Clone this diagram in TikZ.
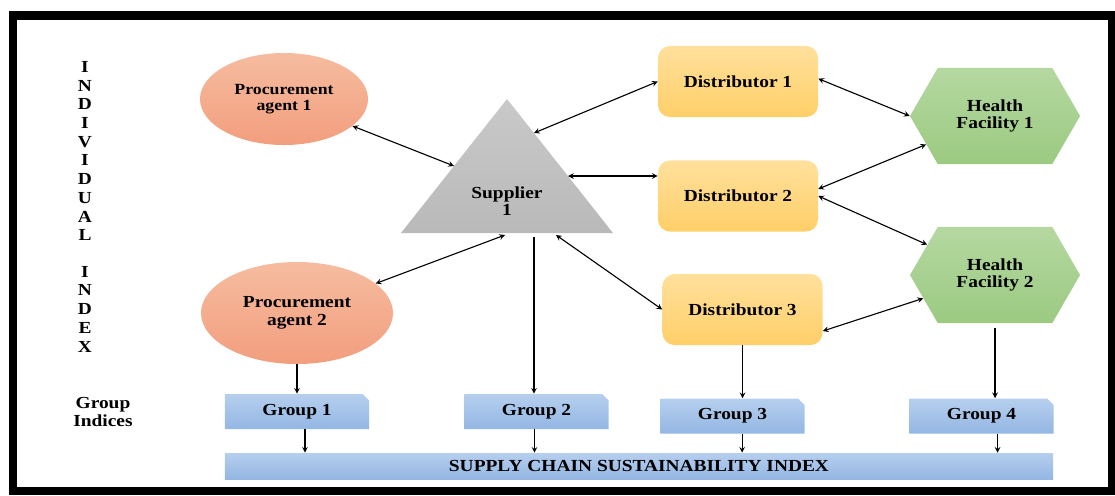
\documentclass[tikz,border=0pt]{standalone}
\usepackage{fontspec}
\setmainfont{Liberation Serif}[FakeStretch=1.15]
\usetikzlibrary{shapes.geometric,shapes.symbols,shapes.misc}

\definecolor{agtop}{HTML}{F6BC9F}
\definecolor{agbot}{HTML}{F29E7E}
\definecolor{distop}{HTML}{FFE09C}
\definecolor{disbot}{HTML}{FFCF68}
\definecolor{hftop}{HTML}{B5D8A1}
\definecolor{hfbot}{HTML}{9BCA81}
\definecolor{grtop}{HTML}{B6CFEE}
\definecolor{grbot}{HTML}{93B6E3}
\definecolor{suptop}{HTML}{C9C9C9}
\definecolor{supbot}{HTML}{B9B9B9}

\begin{document}
\begin{tikzpicture}[x=0.025cm,y=-0.025cm,>=stealth,
   every node/.style={font=\fontsize{12}{13.5}\selectfont\bfseries,align=center},
   agent/.style={ellipse,top color=agtop,bottom color=agbot,inner sep=0pt},
   distbox/.style={rectangle,rounded corners=0.3cm,top color=distop,bottom color=disbot,
                   minimum width=4cm,minimum height=1.775cm},
   facility/.style={signal,signal to=west and east,signal pointer angle=120,
                    top color=hftop,bottom color=hfbot,minimum width=4.25cm,minimum height=2.4cm},
   groupbox/.style={chamfered rectangle,chamfered rectangle corners=north east,
                    chamfered rectangle xsep=0.08cm,chamfered rectangle ysep=0.08cm,
                    top color=grtop,bottom color=grbot,minimum width=3.6cm,minimum height=0.875cm},
   link/.style={<->,thick}]
   \useasboundingbox (0,0) rectangle (1115,495);
   \draw[line width=5.7pt] (13,15.5) rectangle (1112,491);

   % side labels
   \foreach \l/\y in {I/67,N/86,D/104,I/123,V/142,I/160,D/179,U/198,A/217,L/235,
                      I/272,N/290,D/309,E/328,X/347}
      \node (lt\y) at (85,\y) {\l};
   \node (grplbl) at (103,412) {Group\\[-1pt]Indices};

   % supplier
   \coordinate (apex) at (507,99);
   \coordinate (bl) at (401,233);
   \coordinate (br) at (613,233);
   \shade[top color=suptop,bottom color=supbot] (apex) -- (br) -- (bl) -- cycle;
   \node (sup) at (507,201) {Supplier\\[-1pt]1};
   \coordinate (tl) at (454,166);
   \coordinate (tr1) at (534,133);
   \coordinate (tr2) at (568,176);
   \coordinate (tb1) at (505,235);
   \coordinate (tb2) at (534,237);
   \coordinate (tb3) at (556,235);

   % nodes
   \node[agent,minimum width=4.2cm,minimum height=2.3cm,font=\fontsize{11}{12.5}\selectfont\bfseries]
        (pa1) at (284,99) {Procurement\\[-1pt]agent 1};
   \node[agent,minimum width=4.8cm,minimum height=2.55cm] (pa2) at (297,313) {Procurement\\[-1pt]agent 2};
   \node[distbox] (d1) at (738,81.5) {Distributor 1};
   \node[distbox] (d2) at (738,196) {Distributor 2};
   \node[distbox] (d3) at (742.5,309.5) {Distributor 3};
   \node[facility] (hf1) at (995,116) {Health\\[-1pt]Facility 1};
   \node[facility] (hf2) at (995,275) {Health\\[-1pt]Facility 2};
   \node[groupbox] (g1) at (297,411.5) {Group 1};
   \node[groupbox] (g2) at (536.5,411.5) {Group 2};
   \node[groupbox] (g3) at (732.5,416) {Group 3};
   \node[groupbox] (g4) at (981.5,416) {Group 4};
   \node[rectangle,top color=grtop,bottom color=grbot,minimum width=20.7cm,minimum height=0.65cm]
        (ssi) at (639,466) {SUPPLY CHAIN SUSTAINABILITY INDEX};

   % links
   \draw[link] (pa1) -- (tl);
   \draw[link] (tr1) -- (d1.west);
   \draw[link] (tr2) -- (tr2 -| d2.west);
   \draw[link] ([yshift=2pt]d1.east) -- (hf1.west);
   \draw[link] ([yshift=5pt]d2.east) -- (hf1);
   \draw[link] (d2.east) -- (hf2);
   \draw[link] (tb3) -- (d3.west);
   \draw[link] (d3.-15) -- (hf2);
   \draw[link] (tb1) -- (pa2);
   \draw[->,thick] (tb2) -- (tb2 |- g2.north);
   \draw[->,thick] (pa2.south) -- (pa2.south |- g1.north);
   \draw[->,thick] (d3.south) -- (d3.south |- g3.north);
   \draw[->,thick] ([yshift=-3pt]hf2.south) -- (hf2.south |- g4.north);
   \foreach \g/\s in {g1/0.2,g2/-0.05,g3/0.24,g4/0.4}
      \draw[->,thick] ([xshift=\s cm]\g.south) -- ([xshift=\s cm]\g.south |- ssi.north);
\end{tikzpicture}
\end{document}
